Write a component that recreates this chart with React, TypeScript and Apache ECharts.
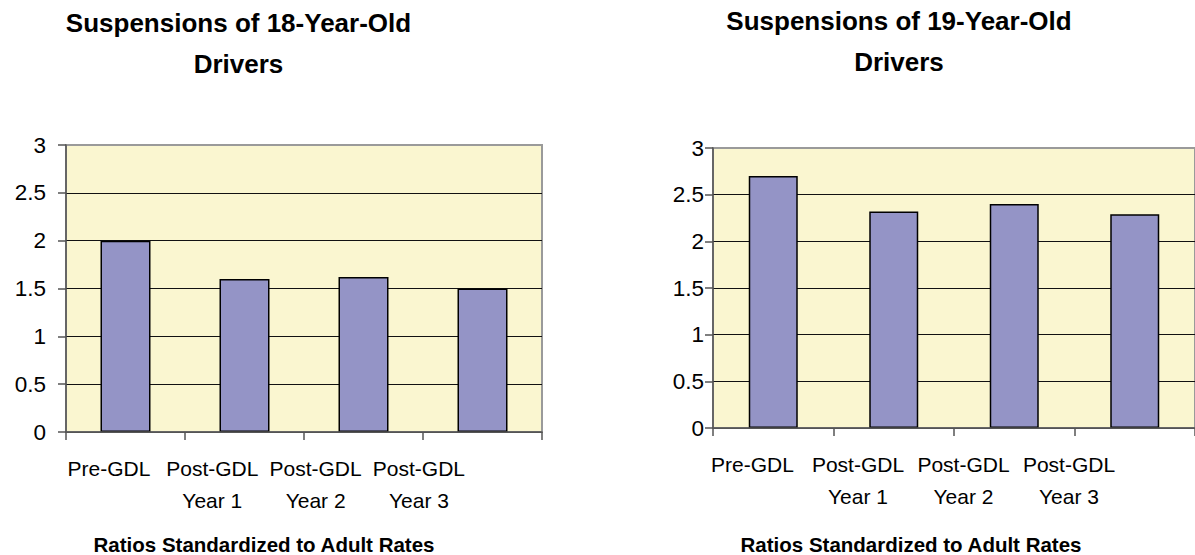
import React, { useEffect, useRef } from "react";
import * as echarts from "echarts";

const categories = ["Pre-GDL", "Post-GDL\nYear 1", "Post-GDL\nYear 2", "Post-GDL\nYear 3"];
const values18 = [2.0, 1.6, 1.62, 1.5];
const values19 = [2.7, 2.32, 2.4, 2.29];
const yMin = 0;
const yMax = 3;
const yStep = 0.5;
const title18 = "Suspensions of 18-Year-Old\nDrivers";
const title19 = "Suspensions of 19-Year-Old\nDrivers";
const axisTitle = "Ratios Standardized to Adult Rates";

const FONT = "'Liberation Sans', Arial, sans-serif";
const BG = "#FAF6D0";
const BAR = "#9494C6";

export default function App() {
  const ref = useRef<HTMLDivElement>(null);
  useEffect(() => {
    if (!ref.current) return;
    const chart = echarts.init(ref.current, null, { renderer: "svg" });

    const plotGrids = [
      { left: 66, top: 145, width: 476, height: 287 },
      { left: 713, top: 148, width: 484, height: 280 },
    ];
    const labelGrids = [
      { left: 57.3, top: 145, width: 413.3, height: 287 },
      { left: 699.75, top: 148, width: 422, height: 280 },
    ];
    const yLabelMargins = [20, 9];

    const grids: any[] = [];
    const xAxes: any[] = [];
    const yAxes: any[] = [];
    plotGrids.forEach((g, i) => {
      grids.push({
        ...g,
        show: true,
        backgroundColor: BG,
        borderColor: "#9a9a9a",
        borderWidth: 2,
        containLabel: false,
      });
      xAxes.push({
        type: "category",
        gridIndex: grids.length - 1,
        data: categories,
        boundaryGap: true,
        axisLine: { show: true, lineStyle: { color: "#555", width: 1.5 } },
        axisTick: { show: true, length: 8, lineStyle: { color: "#555", width: 1.5 } },
        axisLabel: { show: false },
        splitLine: { show: false },
        z: 5,
      });
      yAxes.push({
        type: "value",
        gridIndex: grids.length - 1,
        min: yMin,
        max: yMax,
        interval: yStep,
        axisLine: { show: true, lineStyle: { color: "#555", width: 1.5 } },
        axisTick: { show: true, length: 8, lineStyle: { color: "#555", width: 1.5 } },
        axisLabel: {
          color: "#000",
          fontSize: 22.5,
          fontFamily: FONT,
          margin: yLabelMargins[i],
        },
        splitLine: {
          show: true,
          lineStyle: {
            color: ["#555", "#111", "#111", "#111", "#111", "#111", "#9a9a9a"],
            width: 1,
          },
        },
      });
    });
    labelGrids.forEach((g) => {
      grids.push({ ...g, show: false });
      xAxes.push({
        type: "category",
        gridIndex: grids.length - 1,
        data: categories,
        axisLine: { show: false },
        axisTick: { show: false },
        splitLine: { show: false },
        axisLabel: {
          interval: 0,
          color: "#000",
          fontSize: 21,
          lineHeight: 32,
          margin: 20,
          fontFamily: FONT,
        },
      });
      yAxes.push({ type: "value", gridIndex: grids.length - 1, show: false, min: 0, max: 1 });
    });

    const titleStyle = { fontSize: 26, fontWeight: "bold", fontFamily: FONT, color: "#000", lineHeight: 41 };
    const axisTitleStyle = { fontSize: 20.5, fontWeight: "bold", fontFamily: FONT, color: "#000", lineHeight: 24 };

    const option: any = {
      animation: false,
      backgroundColor: "#fff",
      title: [
        { text: title18, left: 238.5, top: 2.5, padding: 0, textAlign: "center", textStyle: titleStyle },
        { text: title19, left: 899, top: 0.5, padding: 0, textAlign: "center", textStyle: titleStyle },
        { text: axisTitle, left: 264, top: 532, padding: 0, textAlign: "center", textStyle: axisTitleStyle },
        { text: axisTitle, left: 911, top: 532, padding: 0, textAlign: "center", textStyle: axisTitleStyle },
      ],
      grid: grids,
      xAxis: xAxes,
      yAxis: yAxes,
      series: [
        {
          type: "bar",
          xAxisIndex: 0,
          yAxisIndex: 0,
          data: values18,
          barWidth: 50,
          itemStyle: { color: BAR, borderColor: "#000", borderWidth: 1.5 },
          z: 3,
        },
        {
          type: "bar",
          xAxisIndex: 1,
          yAxisIndex: 1,
          data: values19,
          barWidth: 49,
          itemStyle: { color: BAR, borderColor: "#000", borderWidth: 1.5 },
          z: 3,
        },
      ],
    };
    chart.setOption(option);
    return () => chart.dispose();
  }, []);

  return (
    <div
      ref={ref}
      style={{ position: "fixed", left: 0, top: 0, width: 1195, height: 555 }}
    />
  );
}
